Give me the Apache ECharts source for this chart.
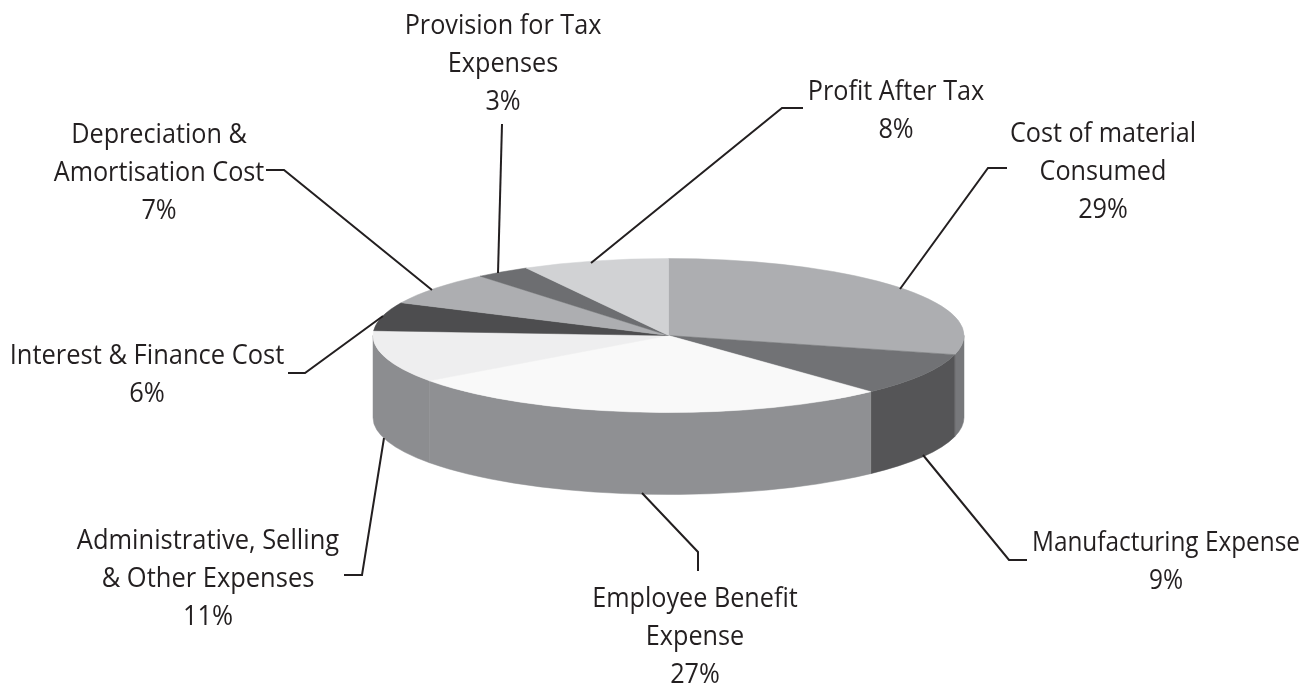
<!DOCTYPE html>
<html>
<head>
<meta charset="utf-8">
<title>Expense split</title>
<script src="https://cdn.jsdelivr.net/npm/echarts@6/dist/echarts.min.js"></script>
<style>
  html, body { margin: 0; padding: 0; background: #fff; }
  #main { width: 1315px; height: 686px; }
</style>
</head>
<body>
<div id="main"></div>
<script>
  // data, clockwise from 12 o'clock
  var categories = [
    'Cost of material\nConsumed',
    'Manufacturing Expense',
    'Employee Benefit\nExpense',
    'Administrative, Selling\n& Other Expenses',
    'Interest & Finance Cost',
    'Depreciation &\nAmortisation Cost',
    'Provision for Tax\nExpenses',
    'Profit After Tax'
  ];
  var values = [29, 9, 27, 11, 6, 7, 3, 8];

  var topColors = ['#adaeb1', '#717275', '#f9f9f9', '#eeeeef', '#4d4d4f', '#adaeb1', '#6d6e71', '#d1d2d4'];
  var sideColors = ['#77787b', '#555557', '#8f9093', '#8c8d90', '#3c3c3e', '#88898c', '#555557', '#a4a5a7'];

  // label centre (first line) and leader line, same order as categories
  var labelPos = [[1103, 134], [1166, 543], [695, 599], [208, 541], [147, 356], [159, 135], [503, 26], [896, 92]];
  var labelSquash = [0.9, 0.87, 0.9, 0.91, 0.91, 0.9, 0.9, 0.9];
  var leaders = [
    [[900, 289], [988, 168], [1007, 168]],
    [[923, 455], [1009, 560], [1027, 560]],
    [[642, 493], [698, 552], [698, 571]],
    [[384, 438], [362, 575], [344, 575]],
    [[383, 316], [305, 373], [288, 373]],
    [[432, 290], [284, 170], [266, 170]],
    [[498, 273], [502, 124]],
    [[591, 263], [782, 108], [803, 108]]
  ];

  // pie geometry
  var cx = 668.5, cy = 335.5, rx = 295.5, ry = 77, depth = 82;
  var lineGap = 38;
  var fontSize = 28;

  var total = values.reduce(function (a, b) { return a + b; }, 0);

  function pt(angle, dy) {
    return [cx + rx * Math.sin(angle), cy - ry * Math.cos(angle) + (dy || 0)];
  }

  function topPath(a0, a1) {
    var p0 = pt(a0), p1 = pt(a1);
    var large = a1 - a0 > Math.PI ? 1 : 0;
    return 'M' + cx + ' ' + cy + 'L' + p0[0] + ' ' + p0[1] +
      'A' + rx + ' ' + ry + ' 0 ' + large + ' 1 ' + p1[0] + ' ' + p1[1] + 'Z';
  }

  function sidePath(a0, a1) {
    var p0 = pt(a0), p1 = pt(a1), q0 = pt(a0, depth), q1 = pt(a1, depth);
    return 'M' + p0[0] + ' ' + p0[1] +
      'A' + rx + ' ' + ry + ' 0 0 1 ' + p1[0] + ' ' + p1[1] +
      'L' + q1[0] + ' ' + q1[1] +
      'A' + rx + ' ' + ry + ' 0 0 0 ' + q0[0] + ' ' + q0[1] + 'Z';
  }

  function renderSlice(params) {
    var i = params.dataIndex;
    var before = 0;
    for (var k = 0; k < i; k++) before += values[k];
    var a0 = before / total * Math.PI * 2;
    var a1 = (before + values[i]) / total * Math.PI * 2;
    var children = [];

    // only the front half of the rim can be seen
    var s0 = Math.max(a0, Math.PI / 2), s1 = Math.min(a1, Math.PI * 1.5);
    if (s1 > s0) {
      children.push({
        type: 'path',
        z2: 1,
        shape: { pathData: sidePath(s0, s1) },
        style: { fill: sideColors[i], stroke: sideColors[i], lineWidth: 0.5 }
      });
    }
    children.push({
      type: 'path',
      z2: 2,
      shape: { pathData: topPath(a0, a1) },
      style: { fill: topColors[i], stroke: topColors[i], lineWidth: 0.5 }
    });
    children.push({
      type: 'polyline',
      z2: 3,
      shape: { points: leaders[i] },
      style: { fill: null, stroke: '#231f20', lineWidth: 2 }
    });
    children.push({
      type: 'text',
      z2: 4,
      x: labelPos[i][0],
      y: labelPos[i][1] - lineGap / 2,
      scaleX: labelSquash[i],
      style: {
        text: categories[i] + '\n' + values[i] + '%',
        fontFamily: '"Open Sans", sans-serif',
        fontSize: fontSize,
        lineHeight: lineGap,
        fill: '#231f20',
        align: 'center',
        verticalAlign: 'top'
      }
    });
    return { type: 'group', children: children };
  }

  var myChart = echarts.init(document.getElementById('main'));
  myChart.setOption({
    backgroundColor: '#fff',
    animation: false,
    series: [{
      type: 'custom',
      coordinateSystem: 'none',
      renderItem: renderSlice,
      data: values
    }]
  });
</script>
</body>
</html>
